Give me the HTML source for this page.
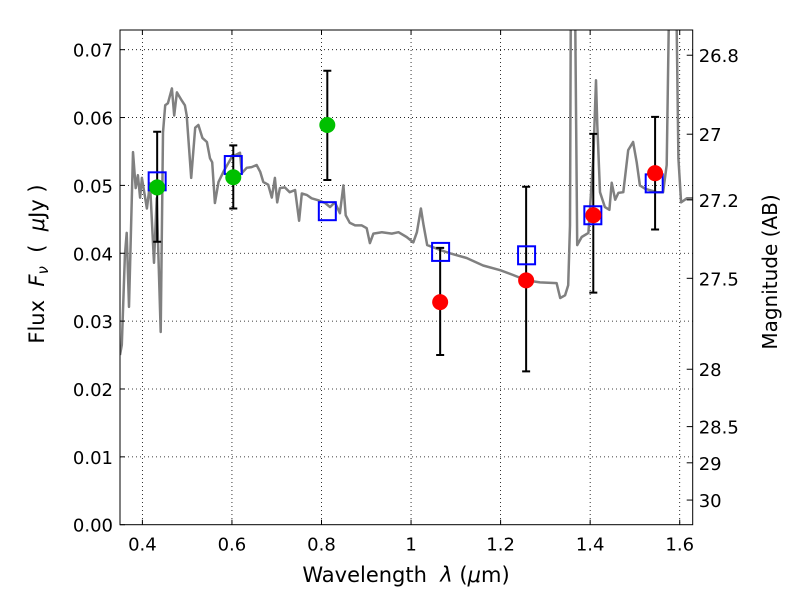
<!DOCTYPE html>
<html><head><meta charset="utf-8"><style>
body{margin:0;background:#fff;}
svg{display:block;font-family:"DejaVu Sans","Liberation Sans",sans-serif;}
</style></head><body>
<svg id="chart" width="800" height="600" viewBox="0 0 800 600" xmlns="http://www.w3.org/2000/svg">
<defs><clipPath id="clip"><rect x="120" y="30" width="572.7" height="494.7"/></clipPath></defs>
<rect width="800" height="600" fill="#fff"/>
<g id="grid"></g>
<g id="spec" clip-path="url(#clip)"></g>
<g id="marks"></g>
<rect x="120" y="30" width="572.7" height="494.7" fill="none" stroke="#000" stroke-width="1"/>
<g id="axes"></g>
<text x="406" y="582" font-size="21" text-anchor="middle" xml:space="preserve">Wavelength  <tspan font-style="italic">λ</tspan> (<tspan font-style="italic">μ</tspan>m)</text>
<text transform="translate(44,264) rotate(-90)" font-size="21" text-anchor="middle" xml:space="preserve">Flux  <tspan font-style="italic">F<tspan font-size="15" dy="4">ν</tspan></tspan><tspan dy="-4">  (  </tspan><tspan font-style="italic">μ</tspan>Jy )</text>
<text transform="translate(777,272) rotate(-90)" font-size="20" text-anchor="middle">Magnitude (AB)</text>
</svg>
<script>
const specW=[0.350,0.354,0.361,0.365,0.370,0.379,0.385,0.390,0.395,0.399,0.410,0.417,0.426,0.432,0.441,0.446,0.451,0.457,0.466,0.471,0.477,0.488,0.495,0.499,0.509,0.518,0.525,0.534,0.544,0.551,0.556,0.562,0.570,0.581,0.600,0.618,0.622,0.633,0.644,0.655,0.663,0.670,0.681,0.689,0.696,0.701,0.707,0.718,0.729,0.741,0.750,0.756,0.767,0.778,0.793,0.808,0.819,0.830,0.841,0.849,0.854,0.863,0.875,0.890,0.901,0.908,0.916,0.935,0.957,0.972,0.990,1.005,1.013,1.022,1.028,1.036,1.065,1.087,1.124,1.161,1.199,1.228,1.258,1.288,1.325,1.333,1.344,1.351,1.355,1.357,1.366,1.371,1.381,1.396,1.407,1.413,1.416,1.422,1.433,1.443,1.448,1.456,1.463,1.474,1.485,1.496,1.504,1.511,1.523,1.549,1.563,1.571,1.577,1.592,1.597,1.603,1.616,1.629];
const specF=[0.0250,0.0265,0.0397,0.0430,0.0321,0.0549,0.0496,0.0515,0.0482,0.0511,0.0466,0.0503,0.0386,0.0481,0.0284,0.0578,0.0618,0.0621,0.0643,0.0603,0.0637,0.0625,0.0618,0.0603,0.0511,0.0585,0.0589,0.0570,0.0564,0.0540,0.0534,0.0474,0.0505,0.0520,0.0542,0.0548,0.0518,0.0526,0.0527,0.0530,0.0520,0.0505,0.0501,0.0482,0.0511,0.0475,0.0496,0.0497,0.0490,0.0493,0.0448,0.0488,0.0486,0.0481,0.0478,0.0474,0.0468,0.0475,0.0459,0.0500,0.0456,0.0445,0.0441,0.0441,0.0437,0.0415,0.0429,0.0431,0.0429,0.0431,0.0424,0.0416,0.0431,0.0466,0.0441,0.0412,0.0405,0.0400,0.0393,0.0382,0.0375,0.0368,0.0360,0.0357,0.0356,0.0334,0.0338,0.0353,0.0441,0.08,0.08,0.0412,0.0424,0.0430,0.0540,0.0655,0.0589,0.0490,0.0468,0.0464,0.0504,0.0479,0.0489,0.0490,0.0552,0.0564,0.0534,0.0500,0.0495,0.0490,0.0490,0.0530,0.08,0.08,0.0540,0.0475,0.0481,0.0481];
const greenW=[0.433,0.603,0.813];
const greenF=[0.0497,0.0512,0.0589];
const greenLo=[0.0417,0.0466,0.0508];
const greenHi=[0.0579,0.0559,0.0669];
const redW=[1.065,1.257,1.407,1.545];
const redF=[0.0328,0.0360,0.0456,0.0518];
const redLo=[0.0250,0.0226,0.0342,0.0435];
const redHi=[0.0408,0.0498,0.0576,0.0601];
const modelW=[0.433,0.603,0.813,1.066,1.258,1.406,1.543];
const modelF=[0.0506,0.0530,0.0462,0.0402,0.0397,0.0456,0.0503];
const xTicks=[0.4,0.6,0.8,1.0,1.2,1.4,1.6];
const xTickLabels=["0.4","0.6","0.8","1","1.2","1.4","1.6"];
const yTicks=[0,0.01,0.02,0.03,0.04,0.05,0.06,0.07];
const yTickLabels=["0.00","0.01","0.02","0.03","0.04","0.05","0.06","0.07"];
const magTicks=[26.8,27,27.2,27.5,28,28.5,29,30];
const magTickLabels=["26.8","27","27.2","27.5","28","28.5","29","30"];

const NS="http://www.w3.org/2000/svg";
const X0=120,X1=692.7,Y0=524.7,Y1=30,WMIN=0.35,WMAX=1.629,FMAX=0.0729;
function sx(w){return X0+(w-WMIN)/(WMAX-WMIN)*(X1-X0);}
function sy(f){return Y0-f/FMAX*(Y0-Y1);}
function mk(tag,attrs,parent){const e=document.createElementNS(NS,tag);for(const k in attrs)e.setAttribute(k,attrs[k]);parent.appendChild(e);return e;}
const grid=document.getElementById('grid'),axes=document.getElementById('axes'),spec=document.getElementById('spec'),marks=document.getElementById('marks');

xTicks.forEach((t,i)=>{const x=sx(t);
 const g=mk('line',{x1:x,x2:x,y1:Y1,y2:Y0,stroke:'#000','stroke-width':0.8,'stroke-dasharray':'1,3'},grid);
 
 
 mk('line',{x1:x,x2:x,y1:Y0,y2:Y0-5,stroke:'#000'},axes);
 mk('line',{x1:x,x2:x,y1:Y1,y2:Y1+5,stroke:'#000'},axes);
 const tx=mk('text',{x:x,y:Y0+26,'font-size':18,'text-anchor':'middle'},axes);tx.textContent=xTickLabels[i];
 
 
});
yTicks.forEach((t,i)=>{const y=sy(t);
 if(t>0){const g=mk('line',{x1:X0,x2:X1,y1:y,y2:y,stroke:'#000','stroke-width':0.8,'stroke-dasharray':'1,3'},grid);
 
 }
 mk('line',{x1:X0,x2:X0+5,y1:y,y2:y,stroke:'#000'},axes);
 const tx=mk('text',{x:X0-7,y:y+7,'font-size':18,'text-anchor':'end'},axes);tx.textContent=yTickLabels[i];
 
 
});
magTicks.forEach((m,i)=>{const y=sy(Math.pow(10,(23.9-m)/2.5));
 mk('line',{x1:X1,x2:X1-6,y1:y,y2:y,stroke:'#000'},axes);
 const tx=mk('text',{x:X1+6,y:y+7,'font-size':18},axes);tx.textContent=magTickLabels[i];
 
 
});
let d='';specW.forEach((w,i)=>{d+=(i?'L':'M')+sx(w).toFixed(1)+','+sy(specF[i]).toFixed(1);});
const p=mk('path',{d:d,fill:'none',stroke:'#808080','stroke-width':2.5,'stroke-linejoin':'round'},spec);


function errbar(w,lo,hi){const x=sx(w),a=sy(lo),b=sy(hi);
 const e=mk('path',{d:`M${x},${a}V${b}M${x-4},${a}H${x+4}M${x-4},${b}H${x+4}`,stroke:'#000','stroke-width':2,fill:'none'},marks);
 
 }
greenW.forEach((w,i)=>errbar(w,greenLo[i],greenHi[i]));
redW.forEach((w,i)=>errbar(w,redLo[i],redHi[i]));
modelW.forEach((w,i)=>{const r=mk('rect',{x:sx(w)-8.5,y:sy(modelF[i])-9,width:17,height:18,fill:'none',stroke:'#0000ff','stroke-width':2},marks);
 
 });
greenW.forEach((w,i)=>{const c=mk('circle',{cx:sx(w),cy:sy(greenF[i]),r:8,fill:'#00c000'},marks);
 
 });
redW.forEach((w,i)=>{const c=mk('circle',{cx:sx(w),cy:sy(redF[i]),r:8,fill:'#ff0000'},marks);
 
 });
</script>
</body></html>
